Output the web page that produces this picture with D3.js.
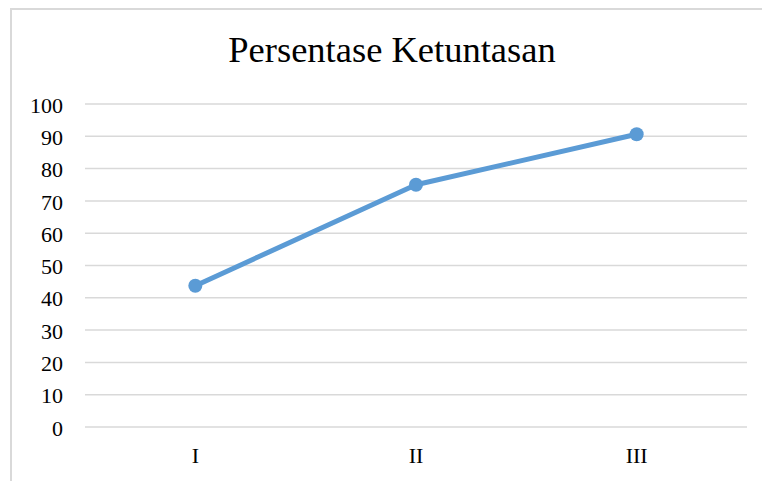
<!DOCTYPE html>
<html>
<head>
<meta charset="utf-8">
<script src="https://cdn.jsdelivr.net/npm/d3@7"></script>
<style>
  html, body { margin: 0; padding: 0; background: #fff; }
  svg { display: block; }
</style>
</head>
<body>
<script>
// Chart data
const categories = ["I", "II", "III"];
const values = [43.75, 75, 90.63];
const yTicks = [0, 10, 20, 30, 40, 50, 60, 70, 80, 90, 100];
const title = "Persentase Ketuntasan";

const W = 762, H = 481;
const serif = "'Liberation Serif', 'Times New Roman', Times, serif";

const svg = d3.select("body").append("svg")
  .attr("width", W).attr("height", H);

// Outer chart frame (extends past the right and bottom edges)
svg.append("rect")
  .attr("x", 11).attr("y", 9)
  .attr("width", 780).attr("height", 500)
  .attr("fill", "#fff")
  .attr("stroke", "#d9d9d9").attr("stroke-width", 2);

const plot = { left: 85, right: 747, top: 104, bottom: 427 };

const x = d3.scaleBand()
  .domain(categories)
  .range([plot.left, plot.right]);

const y = d3.scaleLinear()
  .domain([0, 100])
  .range([plot.bottom, plot.top]);

// Horizontal gridlines
svg.append("g")
  .selectAll("line")
  .data(yTicks)
  .join("line")
  .attr("x1", plot.left).attr("x2", plot.right)
  .attr("y1", d => y(d)).attr("y2", d => y(d))
  .attr("stroke", "#d9d9d9").attr("stroke-width", 1.5);

// Y axis labels
const yAxis = d3.axisLeft(y).tickValues(yTicks).tickSize(0).tickPadding(0);
const gy = svg.append("g")
  .attr("transform", `translate(63,0)`)
  .call(yAxis);
gy.select(".domain").remove();
gy.selectAll("text")
  .attr("font-family", serif)
  .attr("font-size", 22)
  .attr("fill", "#000")
  .attr("dy", "0.37em");

// X axis labels
const xAxis = d3.axisBottom(x).tickSize(0).tickPadding(0);
const gx = svg.append("g")
  .attr("transform", `translate(0,${plot.bottom})`)
  .call(xAxis);
gx.select(".domain").remove();
gx.selectAll("text")
  .attr("font-family", serif)
  .attr("font-size", 22)
  .attr("fill", "#000")
  .attr("dy", null)
  .attr("y", 36);

// Series line
const pts = categories.map((c, i) => [x(c) + x.bandwidth() / 2, y(values[i])]);
svg.append("path")
  .attr("d", d3.line()(pts))
  .attr("fill", "none")
  .attr("stroke", "#5b9bd5")
  .attr("stroke-width", 5)
  .attr("stroke-linejoin", "round")
  .attr("stroke-linecap", "round");

// Markers
svg.append("g")
  .selectAll("circle")
  .data(pts)
  .join("circle")
  .attr("cx", d => d[0]).attr("cy", d => d[1])
  .attr("r", 7)
  .attr("fill", "#5b9bd5");

// Title
svg.append("text")
  .attr("x", 392).attr("y", 62)
  .attr("text-anchor", "middle")
  .attr("font-family", serif)
  .attr("font-size", 36.5)
  .attr("fill", "#000")
  .text(title);
</script>
</body>
</html>
